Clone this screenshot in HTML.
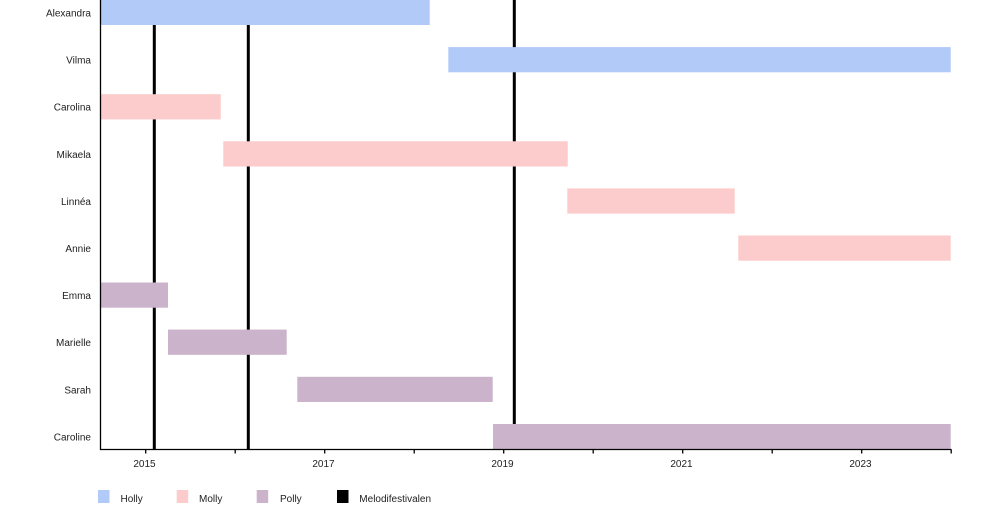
<!DOCTYPE html>
<html>
<head>
<meta charset="utf-8">
<style>
  html, body { margin: 0; padding: 0; background: #ffffff; }
  body { width: 1000px; height: 508px; overflow: hidden; }
  svg { display: block; }
  text { font-family: "Liberation Sans", Arial, sans-serif; font-size: 10px; fill: #222; }
</style>
</head>
<body>
<svg width="1000" height="508" viewBox="0 0 1000 508" xmlns="http://www.w3.org/2000/svg">
  <rect x="0" y="0" width="1000" height="508" fill="#ffffff"/>

  <!-- Melodifestivalen lines -->
  <g fill="#000">
    <rect x="152.8" y="0" width="3" height="449"/>
    <rect x="246.8" y="0" width="3" height="449"/>
    <rect x="512.8" y="0" width="3" height="449"/>
  </g>

  <!-- Bars -->
  <g>
    <rect x="101" y="0" width="328.7" height="25" fill="#b1caf8"/>
    <rect x="448.3" y="47.1" width="502.4" height="25.2" fill="#b1caf8"/>
    <rect x="101" y="94.2" width="119.7" height="25.2" fill="#fccbcb"/>
    <rect x="223.3" y="141.3" width="344.4" height="25.2" fill="#fccbcb"/>
    <rect x="567.3" y="188.4" width="167.4" height="25.2" fill="#fccbcb"/>
    <rect x="738.3" y="235.5" width="212.4" height="25.2" fill="#fccbcb"/>
    <rect x="101" y="282.5" width="67" height="25.2" fill="#cbb3cb"/>
    <rect x="168" y="329.6" width="118.7" height="25.2" fill="#cbb3cb"/>
    <rect x="297.3" y="376.8" width="195.4" height="25.2" fill="#cbb3cb"/>
    <rect x="493" y="424" width="457.7" height="25.2" fill="#cbb3cb"/>
  </g>

  <!-- Axes -->
  <g stroke="#000" stroke-width="1.3" fill="none">
    <line x1="100.5" y1="0" x2="100.5" y2="450"/>
    <line x1="100" y1="449.5" x2="951.5" y2="449.5"/>
    <line x1="145.7" y1="449.5" x2="145.7" y2="453.5"/>
    <line x1="235.2" y1="449.5" x2="235.2" y2="453.5"/>
    <line x1="324.7" y1="449.5" x2="324.7" y2="453.5"/>
    <line x1="414.2" y1="449.5" x2="414.2" y2="453.5"/>
    <line x1="503.7" y1="449.5" x2="503.7" y2="453.5"/>
    <line x1="593.2" y1="449.5" x2="593.2" y2="453.5"/>
    <line x1="682.7" y1="449.5" x2="682.7" y2="453.5"/>
    <line x1="772.2" y1="449.5" x2="772.2" y2="453.5"/>
    <line x1="861.7" y1="449.5" x2="861.7" y2="453.5"/>
    <line x1="951.2" y1="449.5" x2="951.2" y2="453.5"/>
  </g>

  <!-- X tick labels -->
  <g text-anchor="middle">
    <text x="144.5" y="467">2015</text>
    <text x="323.5" y="467">2017</text>
    <text x="502.5" y="467">2019</text>
    <text x="681.5" y="467">2021</text>
    <text x="860.5" y="467">2023</text>
  </g>

  <!-- Y labels -->
  <g text-anchor="end">
    <text x="91" y="16.5">Alexandra</text>
    <text x="91" y="63.6">Vilma</text>
    <text x="91" y="110.7">Carolina</text>
    <text x="91" y="157.8">Mikaela</text>
    <text x="91" y="204.9">Linnéa</text>
    <text x="91" y="252">Annie</text>
    <text x="91" y="299.1">Emma</text>
    <text x="91" y="346.2">Marielle</text>
    <text x="91" y="393.3">Sarah</text>
    <text x="91" y="440.4">Caroline</text>
  </g>

  <!-- Legend -->
  <g>
    <rect x="98" y="490" width="11.5" height="13" fill="#b1caf8"/>
    <text x="120.5" y="502">Holly</text>
    <rect x="176.7" y="490" width="11.5" height="13" fill="#fccbcb"/>
    <text x="199" y="502">Molly</text>
    <rect x="256.7" y="490" width="11.5" height="13" fill="#cbb3cb"/>
    <text x="280" y="502">Polly</text>
    <rect x="337" y="490" width="11.5" height="13" fill="#000000"/>
    <text x="359.3" y="502">Melodifestivalen</text>
  </g>
</svg>
</body>
</html>
